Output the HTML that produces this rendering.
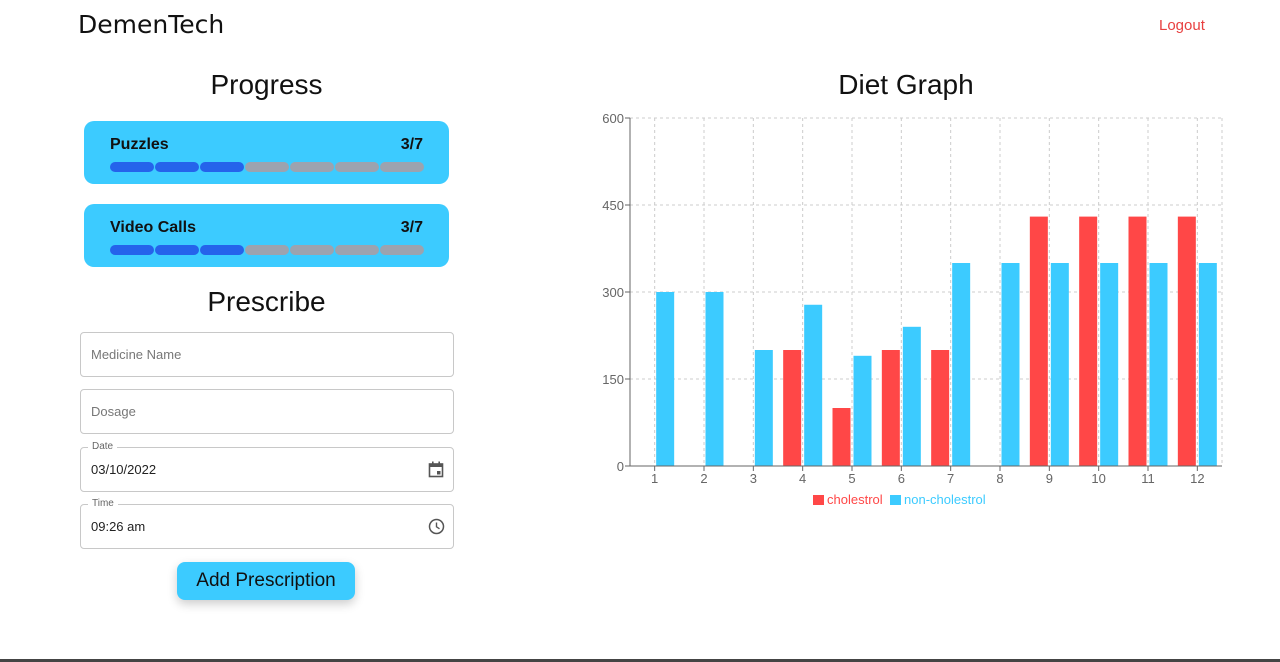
<!DOCTYPE html>
<html><head><meta charset="utf-8"><style>
body{margin:0;width:1280px;height:662px;background:#fff;font-family:"Liberation Sans",sans-serif;position:relative;overflow:hidden}
.abs{position:absolute}
.card{position:absolute;left:84px;width:365px;height:63px;background:#3ccbff;border-radius:10px}
.card .t{position:absolute;left:26px;top:15px;font-weight:bold;font-size:16px;color:#111}
.card .n{position:absolute;right:26px;top:15px;font-weight:bold;font-size:16px;color:#111}
.seg{position:absolute;top:41px;width:44px;height:10px;border-radius:5px}
.inp{position:absolute;left:80px;width:372px;height:43px;border:1px solid #c8c8c8;border-radius:4px;font-size:13px;color:#222}
.inp span.p{position:absolute;left:10px;top:14px;color:#777}
.inp span.v{position:absolute;left:10px;top:14px}
.inp .lab{position:absolute;left:7px;top:-7px;background:#fff;padding:0 4px;font-size:10px;color:#666}
</style></head><body>
<div class="abs" style="left:78px;top:10px;font-size:25px;font-family:'DejaVu Sans',sans-serif;color:#111">DemenTech</div>
<div class="abs" style="left:1159px;top:17px;font-size:15px;color:#e84040">Logout</div>
<div class="abs" style="left:84px;width:365px;text-align:center;top:69px;font-size:28px;color:#111">Progress</div>
<div class="card" style="top:121px"><div class="t">Puzzles</div><div class="n">3/7</div><div id="s1"></div></div>
<div class="card" style="top:204px"><div class="t">Video Calls</div><div class="n">3/7</div><div id="s2"></div></div>
<div class="abs" style="left:84px;width:365px;text-align:center;top:286px;font-size:28px;color:#111">Prescribe</div>
<div class="inp" style="top:332px"><span class="p">Medicine Name</span></div>
<div class="inp" style="top:389px"><span class="p">Dosage</span></div>
<div class="inp" style="top:447px"><span class="lab">Date</span><span class="v">03/10/2022</span>
<svg class="abs" style="left:347px;top:13px" width="16" height="17" viewBox="0 0 16 17"><rect x="1.5" y="3" width="13" height="12.5" fill="none" stroke="#555" stroke-width="1.6"/><rect x="1.5" y="3" width="13" height="3" fill="#555"/><rect x="4" y="0.5" width="1.6" height="3" fill="#555"/><rect x="10.4" y="0.5" width="1.6" height="3" fill="#555"/><rect x="9" y="10" width="3.5" height="3.5" fill="#555"/></svg></div>
<div class="inp" style="top:504px"><span class="lab">Time</span><span class="v">09:26 am</span>
<svg class="abs" style="left:347px;top:13px" width="17" height="17" viewBox="0 0 17 17"><circle cx="8.5" cy="8.5" r="7" fill="none" stroke="#555" stroke-width="1.5"/><path d="M8.5 4.5V8.8L11.5 10.8" fill="none" stroke="#555" stroke-width="1.4"/></svg></div>
<div class="abs" style="left:177px;top:562px;width:178px;height:38px;background:#3ccbff;border-radius:8px;box-shadow:0 4px 10px rgba(0,0,0,.2);text-align:center;line-height:38px;font-size:19px;color:#111">Add Prescription</div>
<div class="abs" style="left:590px;width:632px;text-align:center;top:69px;font-size:28px;color:#111">Diet Graph</div>
<svg class="abs" style="left:0;top:0" width="1280" height="662" id="chart"></svg>
<div class="abs" style="left:0;top:659px;width:1280px;height:3px;background:#444"></div>
<script>
['s1','s2'].forEach(function(id){
  var c=document.getElementById(id);
  for(var i=0;i<7;i++){var d=document.createElement('div');d.className='seg';
  
  
  d.style.left=(26+i*45)+'px';d.style.background=i<3?'#2563eb':'#9ca3af';c.appendChild(d);}
});
var categories=['1','2','3','4','5','6','7','8','9','10','11','12'];
var cholesterol=[0,0,0,200,100,200,200,0,430,430,430,430];
var nonCholesterol=[300,300,200,278,190,240,350,350,350,350,350,350];
var yTicks=[0,150,300,450,600];
var L=630,R=1222,T=118,B=466,YMAX=600;
var ns='http://www.w3.org/2000/svg',svg=document.getElementById('chart');
function y(v){return B-(v/YMAX)*(B-T);}
var bw=(R-L)/categories.length;
function xc(i){return L+bw*(i+0.5);}
function el(t,a){var e=document.createElementNS(ns,t);for(var k in a)e.setAttribute(k,a[k]);svg.appendChild(e);return e;}
yTicks.forEach(function(v){
  if(v>0){var g=el('line',{x1:L,x2:R,y1:y(v),y2:y(v),stroke:'#ccc','stroke-dasharray':'3 3'});
  
  }
  var t=el('text',{x:L-6,y:y(v)+5,'text-anchor':'end','font-size':13,fill:'#666','font-family':'Liberation Sans'});t.textContent=v;
  
  
  el('line',{x1:L-5,x2:L,y1:y(v),y2:y(v),stroke:'#666'});
});
categories.forEach(function(c,i){
  var g=el('line',{x1:xc(i),x2:xc(i),y1:T,y2:B,stroke:'#ccc','stroke-dasharray':'3 3'});
  
  
});
el('line',{x1:R,x2:R,y1:T,y2:B,stroke:'#ccc','stroke-dasharray':'3 3'});
categories.forEach(function(c,i){
  var w=18,gap=3;
  if(cholesterol[i]>0){var r=el('rect',{x:xc(i)-gap/2-w,y:y(cholesterol[i]),width:w,height:B-y(cholesterol[i]),fill:'#ff4747'});
  
  }
  if(nonCholesterol[i]>0){var b=el('rect',{x:xc(i)+gap/2,y:y(nonCholesterol[i]),width:w,height:B-y(nonCholesterol[i]),fill:'#3ccbff'});
  
  }
  var t=el('text',{x:xc(i),y:B+17,'text-anchor':'middle','font-size':13,fill:'#666','font-family':'Liberation Sans'});t.textContent=c;
  
  
  el('line',{x1:xc(i),x2:xc(i),y1:B,y2:B+5,stroke:'#666'});
});
el('line',{x1:L,x2:R,y1:B,y2:B,stroke:'#666'});
el('line',{x1:L,x2:L,y1:T,y2:B,stroke:'#666'});
var lg=[['cholestrol','#ff4747',813],['non-cholestrol','#3ccbff',890]];
lg.forEach(function(l){
  var r=el('rect',{x:l[2],y:495,width:11,height:10,fill:l[1]});
  
  
  var t=el('text',{x:l[2]+14,y:504,'font-size':13,fill:l[1],'font-family':'Liberation Sans'});t.textContent=l[0];
  
  
});
</script>
</body></html>
